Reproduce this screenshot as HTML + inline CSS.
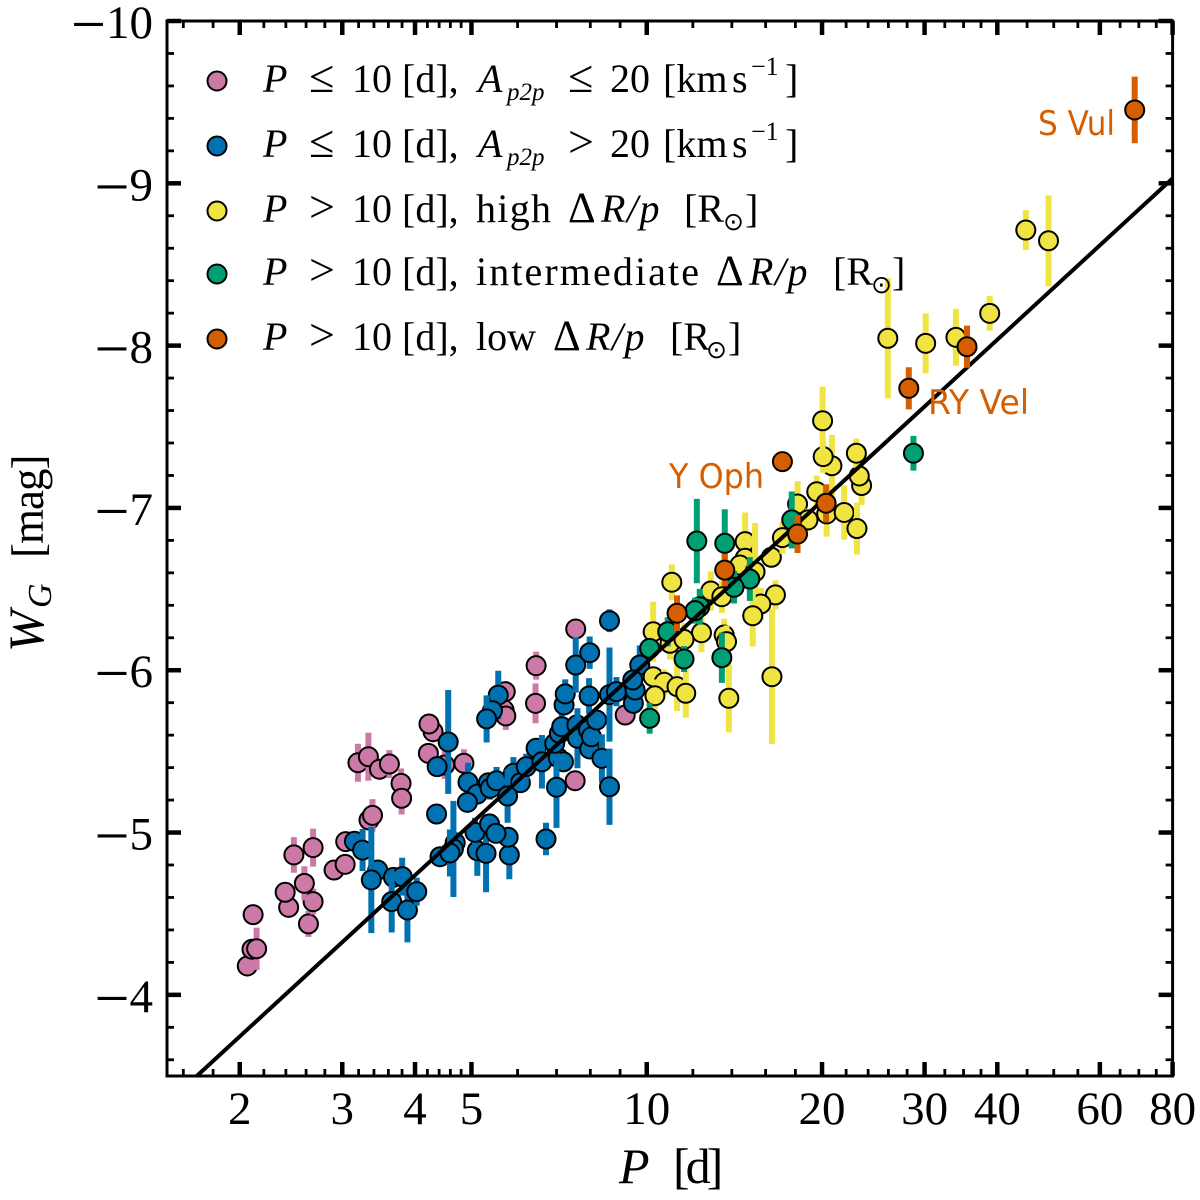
<!DOCTYPE html>
<html>
<head>
<meta charset="utf-8">
<title>Period-Wesenheit relation</title>
<style>
  html, body { margin: 0; padding: 0; background: #fff; }
  svg { display: block; }
  text { font-family: "Liberation Serif", "DejaVu Serif", serif; fill: #000; }
  .sans { font-family: "DejaVu Sans", "Liberation Sans", sans-serif; fill: #D55E00; font-size: 34px; }
  .leg { font-size: 40px; }
  .leg .i { font-style: italic; }
  .leg .rp { font-style: italic; letter-spacing: 1.5px; }
  .leg .r { font-size: 46px; }
  .leg .d { font-size: 43px; }
  .leg .s { font-size: 25px; font-style: italic; }
  .leg .o { font-size: 25px; font-family: "DejaVu Sans", sans-serif; }
</style>
</head>
<body>
<svg id="chart" xmlns="http://www.w3.org/2000/svg" width="1200" height="1200" viewBox="0 0 1200 1200">
  <rect x="0" y="0" width="1200" height="1200" fill="#fff"/>
  <g id="marks"></g>
  <g id="axes"></g>

  <g>
    <g>
      <circle cx="217" cy="81" r="9.5" fill="#CC79A7" stroke="#000" stroke-width="2"/>
      <text class="leg" y="92"><tspan class="i" x="263">P</tspan><tspan class="r" x="309">≤</tspan><tspan x="352">10</tspan><tspan x="402">[d],</tspan><tspan class="i" x="478">A</tspan><tspan class="s" x="507" dy="8">p2p</tspan><tspan class="r" x="568" dy="-8">≤</tspan><tspan x="610">20</tspan><tspan x="663">[km</tspan><tspan x="732">s</tspan><tspan font-size="26" x="751" dy="-17">−1</tspan><tspan x="785" dy="17">]</tspan></text>
    </g>
    <g>
      <circle cx="217" cy="146" r="9.5" fill="#0072B2" stroke="#000" stroke-width="2"/>
      <text class="leg" y="157"><tspan class="i" x="263">P</tspan><tspan class="r" x="309">≤</tspan><tspan x="352">10</tspan><tspan x="402">[d],</tspan><tspan class="i" x="478">A</tspan><tspan class="s" x="507" dy="8">p2p</tspan><tspan class="r" x="568" dy="-8">&gt;</tspan><tspan x="610">20</tspan><tspan x="663">[km</tspan><tspan x="732">s</tspan><tspan font-size="26" x="751" dy="-17">−1</tspan><tspan x="785" dy="17">]</tspan></text>
    </g>
    <g>
      <circle cx="217" cy="211" r="9.5" fill="#F0E442" stroke="#000" stroke-width="2"/>
      <text class="leg" y="222"><tspan class="i" x="263">P</tspan><tspan class="r" x="309">&gt;</tspan><tspan x="352">10</tspan><tspan x="402">[d],</tspan><tspan x="476" letter-spacing="1.3">high</tspan><tspan class="d" x="568">Δ</tspan><tspan class="rp" x="601">R/p</tspan><tspan x="684">[R</tspan><tspan class="o" x="723" dy="8">⊙</tspan><tspan x="745" dy="-8">]</tspan></text>
    </g>
    <g>
      <circle cx="217" cy="274" r="9.5" fill="#009E73" stroke="#000" stroke-width="2"/>
      <text class="leg" y="285"><tspan class="i" x="263">P</tspan><tspan class="r" x="309">&gt;</tspan><tspan x="352">10</tspan><tspan x="402">[d],</tspan><tspan x="476" letter-spacing="2.1">intermediate</tspan><tspan class="d" x="716">Δ</tspan><tspan class="rp" x="749">R/p</tspan><tspan x="833">[R</tspan><tspan class="o" x="871" dy="8">⊙</tspan><tspan x="892" dy="-8">]</tspan></text>
    </g>
    <g>
      <circle cx="217" cy="339" r="9.5" fill="#D55E00" stroke="#000" stroke-width="2"/>
      <text class="leg" y="350"><tspan class="i" x="263">P</tspan><tspan class="r" x="309">&gt;</tspan><tspan x="352">10</tspan><tspan x="402">[d],</tspan><tspan x="476">low</tspan><tspan class="d" x="553">Δ</tspan><tspan class="rp" x="586">R/p</tspan><tspan x="670">[R</tspan><tspan class="o" x="706" dy="8">⊙</tspan><tspan x="728" dy="-8">]</tspan></text>
    </g>
  </g>

  <text class="sans" x="1038" y="135" textLength="77" lengthAdjust="spacingAndGlyphs">S Vul</text>
  <text class="sans" x="928" y="414" textLength="101" lengthAdjust="spacingAndGlyphs">RY Vel</text>
  <text class="sans" x="669" y="488" textLength="95" lengthAdjust="spacingAndGlyphs">Y Oph</text>

  <text font-size="50" transform="translate(43,652) rotate(-90)"><tspan font-style="italic" x="0">W</tspan><tspan font-style="italic" font-size="34" x="44" dy="8">G</tspan><tspan font-size="45" x="94" dy="-8" letter-spacing="-1">[mag]</tspan></text>
  <text font-size="50" y="1183"><tspan font-style="italic" x="619">P</tspan><tspan x="673" letter-spacing="-4">[d]</tspan></text>
</svg>

<script>
// Fit line: W = fitZero + fitSlope * (log10 P - 1)
const fitZero = -6.05;
const fitSlope = -3.3;

// Axis tick values
const xMajorTicks = [2, 3, 4, 5, 10, 20, 30, 40, 60, 80];
const xMinorTicks = [1.6, 1.8, 2.2, 2.4, 2.6, 2.8, 3.2, 3.4, 3.6, 3.8, 4.2, 4.4, 4.6, 4.8, 6, 7, 8, 9, 12, 14, 16, 18, 22, 24, 26, 28, 32.5, 35, 37.5, 45, 50, 55, 65, 70, 75];
const yMajorTicks = [-10, -9, -8, -7, -6, -5, -4];
const yMinorTicks = [-9.8, -9.6, -9.4, -9.2, -8.8, -8.6, -8.4, -8.2, -7.8, -7.6, -7.4, -7.2, -6.8, -6.6, -6.4, -6.2, -5.8, -5.6, -5.4, -5.2, -4.8, -4.6, -4.4, -4.2, -3.8, -3.6];

// Short period, low amplitude (log10 P, W_G, error)
const pinkLogP = [0.314, 0.322, 0.330, 0.324, 0.385, 0.379, 0.419, 0.427, 0.412, 0.394, 0.427, 0.463, 0.482, 0.483, 0.523, 0.529, 0.504, 0.522, 0.541, 0.558, 0.578, 0.579, 0.633, 0.626, 0.625, 0.653, 0.686, 0.757, 0.755, 0.758, 0.810, 0.809, 0.878, 0.877, 0.963];
const pinkW = [-4.178, -4.281, -4.284, -4.494, -4.539, -4.632, -4.437, -4.574, -4.687, -4.862, -4.907, -4.769, -4.804, -4.944, -5.077, -5.106, -5.430, -5.467, -5.390, -5.422, -5.303, -5.211, -5.621, -5.669, -5.488, -5.416, -5.427, -5.868, -5.755, -5.718, -6.028, -5.796, -6.254, -5.319, -5.724];
const pinkErr = [0.03, 0.03, 0.13, 0.03, 0.03, 0.03, 0.08, 0.08, 0.105, 0.11, 0.117, 0.03, 0.03, 0.03, 0.03, 0.10, 0.117, 0.148, 0.03, 0.086, 0.092, 0.10, 0.03, 0.06, 0.03, 0.086, 0.086, 0.03, 0.03, 0.086, 0.086, 0.123, 0.03, 0.03, 0.06];

// Short period, high amplitude
const blueLogP = [0.498, 0.512, 0.538, 0.527, 0.565, 0.580, 0.562, 0.589, 0.605, 0.645, 0.671, 0.668, 0.662, 0.659, 0.640, 0.639, 0.745, 0.735, 0.725, 0.693, 0.709, 0.692, 0.728, 0.731, 0.742, 0.771, 0.783, 0.761, 0.793, 0.810, 0.820, 0.848, 0.857, 0.845, 0.842, 0.850, 0.854, 0.858, 0.860, 0.878, 0.902, 0.936, 0.880, 0.881, 0.900, 0.902, 0.905, 0.914, 0.901, 0.923, 0.936, 0.936, 0.948, 0.977, 0.980, 0.988, 0.976, 0.827, 0.764, 0.762, 0.709, 0.724, 0.705, 0.730, 0.741];
const blueW = [-4.946, -4.892, -4.769, -4.708, -4.724, -4.728, -4.574, -4.523, -4.636, -4.851, -4.937, -4.899, -4.874, -5.558, -5.406, -5.114, -5.847, -5.751, -5.700, -5.310, -5.237, -5.186, -5.307, -5.273, -5.319, -5.365, -5.307, -5.225, -5.406, -5.519, -5.436, -5.461, -5.436, -5.279, -5.550, -5.611, -5.652, -5.786, -5.854, -6.032, -6.108, -6.305, -5.663, -5.581, -5.632, -5.515, -5.590, -5.693, -5.841, -5.457, -5.282, -5.850, -5.868, -5.796, -5.878, -6.032, -5.940, -4.960, -4.862, -4.971, -4.888, -4.872, -5.001, -5.053, -4.995];
const blueErr = [0.03, 0.13, 0.03, 0.328, 0.03, 0.117, 0.19, 0.20, 0.086, 0.03, 0.03, 0.296, 0.145, 0.32, 0.03, 0.03, 0.15, 0.03, 0.145, 0.12, 0.03, 0.03, 0.03, 0.07, 0.085, 0.10, 0.03, 0.165, 0.08, 0.06, 0.165, 0.03, 0.03, 0.25, 0.03, 0.03, 0.085, 0.03, 0.09, 0.17, 0.10, 0.07, 0.03, 0.185, 0.03, 0.06, 0.03, 0.03, 0.11, 0.148, 0.235, 0.29, 0.09, 0.03, 0.03, 0.12, 0.03, 0.10, 0.15, 0.03, 0.155, 0.24, 0.09, 0.03, 0.03];

// Long period, high radius variation
const yellowLogP = [1.043, 1.169, 1.169, 1.160, 1.186, 1.110, 1.129, 1.221, 1.215, 1.196, 1.182, 1.094, 1.011, 1.040, 1.064, 1.133, 1.137, 1.141, 1.011, 1.030, 1.014, 1.052, 1.067, 1.214, 1.233, 1.259, 1.292, 1.277, 1.309, 1.339, 1.361, 1.369, 1.365, 1.360, 1.318, 1.303, 1.302, 1.414, 1.479, 1.531, 1.589, 1.651, 1.690];
const yellowW = [-6.542, -6.792, -6.690, -6.648, -6.607, -6.488, -6.453, -6.464, -5.960, -6.408, -6.336, -6.231, -6.237, -6.166, -6.190, -6.217, -6.176, -5.827, -5.960, -5.926, -5.843, -5.899, -5.858, -6.696, -6.817, -7.024, -7.100, -6.926, -6.963, -6.972, -6.873, -7.138, -7.197, -7.337, -7.260, -7.316, -7.537, -8.045, -8.014, -8.051, -8.199, -8.712, -8.646];
const yellowErr = [0.11, 0.18, 0.10, 0.05, 0.30, 0.12, 0.10, 0.09, 0.415, 0.10, 0.19, 0.12, 0.185, 0.10, 0.10, 0.10, 0.10, 0.21, 0.06, 0.08, 0.10, 0.15, 0.15, 0.05, 0.10, 0.14, 0.10, 0.07, 0.14, 0.167, 0.16, 0.12, 0.10, 0.09, 0.19, 0.10, 0.21, 0.37, 0.185, 0.175, 0.107, 0.123, 0.28];

// Long period, intermediate radius variation
const greenLogP = [1.086, 1.134, 1.177, 1.150, 1.091, 1.083, 1.036, 1.005, 1.064, 1.129, 1.005, 1.249, 1.458];
const greenW = [-6.796, -6.782, -6.562, -6.511, -6.391, -6.367, -6.237, -6.135, -6.069, -6.077, -5.704, -6.926, -7.337];
const greenErr = [0.26, 0.21, 0.135, 0.10, 0.11, 0.08, 0.09, 0.05, 0.08, 0.155, 0.095, 0.175, 0.107];

// Long period, low radius variation
const orangeLogP = [1.052, 1.134, 1.259, 1.308, 1.233, 1.450, 1.550, 1.838];
const orangeW = [-6.351, -6.617, -6.839, -7.029, -7.285, -7.737, -7.993, -9.452];
const orangeErr = [0.11, 0.10, 0.117, 0.117, 0.0, 0.13, 0.13, 0.205];

const plotLeft = 167, plotRight = 1172.6, plotTop = 21, plotBottom = 1076;
const logMin = Math.log10(1.5), logMax = Math.log10(80);
const wTop = -10, wBottom = -3.5;

function xScale(logP) {
  return plotLeft + (logP - logMin) / (logMax - logMin) * (plotRight - plotLeft);
}
function yScale(w) {
  return plotTop + (w - wTop) / (wBottom - wTop) * (plotBottom - plotTop);
}

const NS = 'http://www.w3.org/2000/svg';
const marks = document.getElementById('marks');
const axes = document.getElementById('axes');

function drawSeries(name, logP, w, err, color) {
  const group = document.createElementNS(NS, 'g');
  
  
  marks.appendChild(group);
  logP.forEach(function (lp, i) {
    const cx = xScale(lp);
    const cy = yScale(w[i]);
    if (err[i] > 0) {
      const bar = document.createElementNS(NS, 'line');
      bar.setAttribute('x1', cx);
      bar.setAttribute('x2', cx);
      bar.setAttribute('y1', yScale(w[i] - err[i]));
      bar.setAttribute('y2', yScale(w[i] + err[i]));
      bar.setAttribute('stroke', color);
      bar.setAttribute('stroke-width', '6');
      
      
      group.appendChild(bar);
    }
    const dot = document.createElementNS(NS, 'circle');
    dot.setAttribute('cx', cx);
    dot.setAttribute('cy', cy);
    dot.setAttribute('r', '9.5');
    dot.setAttribute('fill', color);
    dot.setAttribute('stroke', '#000');
    dot.setAttribute('stroke-width', '2');
    
    
    group.appendChild(dot);
  });
}

drawSeries('short-low-amplitude', pinkLogP, pinkW, pinkErr, '#CC79A7');
drawSeries('short-high-amplitude', blueLogP, blueW, blueErr, '#0072B2');
drawSeries('long-high-radius', yellowLogP, yellowW, yellowErr, '#F0E442');
drawSeries('long-intermediate-radius', greenLogP, greenW, greenErr, '#009E73');

// Fit line, clipped to the axes range
const fitStart = 1 + (wBottom - fitZero) / fitSlope;
const fitLine = document.createElementNS(NS, 'line');
fitLine.setAttribute('x1', xScale(fitStart));
fitLine.setAttribute('y1', yScale(wBottom));
fitLine.setAttribute('x2', xScale(logMax));
fitLine.setAttribute('y2', yScale(fitZero + fitSlope * (logMax - 1)));
fitLine.setAttribute('stroke', '#000');
fitLine.setAttribute('stroke-width', '4');


marks.appendChild(fitLine);

drawSeries('long-low-radius', orangeLogP, orangeW, orangeErr, '#D55E00');

function tick(x1, y1, x2, y2, width, name) {
  const t = document.createElementNS(NS, 'line');
  t.setAttribute('x1', x1);
  t.setAttribute('y1', y1);
  t.setAttribute('x2', x2);
  t.setAttribute('y2', y2);
  t.setAttribute('stroke', '#000');
  t.setAttribute('stroke-width', width);
  
  
  axes.appendChild(t);
}

const majorLen = 14, minorLen = 7, majorW = 4.5, minorW = 2.8;

xMajorTicks.forEach(function (p) {
  const x = xScale(Math.log10(p));
  tick(x, plotBottom, x, plotBottom - majorLen, majorW, 'x-major-tick');
  tick(x, plotTop, x, plotTop + majorLen, majorW, 'x-major-tick-top');
  const label = document.createElementNS(NS, 'text');
  label.setAttribute('x', x);
  label.setAttribute('y', 1124);
  label.setAttribute('font-size', '47');
  label.setAttribute('text-anchor', 'middle');
  
  
  label.textContent = String(p);
  axes.appendChild(label);
});
xMinorTicks.forEach(function (p) {
  const x = xScale(Math.log10(p));
  tick(x, plotBottom, x, plotBottom - minorLen, minorW, 'x-minor-tick');
  tick(x, plotTop, x, plotTop + minorLen, minorW, 'x-minor-tick-top');
});
yMajorTicks.forEach(function (w) {
  const y = yScale(w);
  tick(plotLeft, y, plotLeft + majorLen, y, majorW, 'y-major-tick');
  tick(plotRight, y, plotRight - majorLen, y, majorW, 'y-major-tick-right');
  const label = document.createElementNS(NS, 'text');
  label.setAttribute('x', 153);
  label.setAttribute('y', y + 17);
  label.setAttribute('font-size', '47');
  label.setAttribute('text-anchor', 'end');
  
  
  const minus = document.createElementNS(NS, 'tspan');
  minus.setAttribute('font-size', '62');
  minus.setAttribute('dy', '7');
  minus.textContent = '\u2212';
  label.appendChild(minus);
  const digits = document.createElementNS(NS, 'tspan');
  digits.setAttribute('dy', '-7');
  digits.textContent = String(Math.abs(w));
  label.appendChild(digits);
  axes.appendChild(label);
});
yMinorTicks.forEach(function (w) {
  const y = yScale(w);
  tick(plotLeft, y, plotLeft + minorLen, y, minorW, 'y-minor-tick');
  tick(plotRight, y, plotRight - minorLen, y, minorW, 'y-minor-tick-right');
});

const frame = document.createElementNS(NS, 'rect');
frame.setAttribute('x', plotLeft);
frame.setAttribute('y', plotTop);
frame.setAttribute('width', plotRight - plotLeft);
frame.setAttribute('height', plotBottom - plotTop);
frame.setAttribute('fill', 'none');
frame.setAttribute('stroke', '#000');
frame.setAttribute('stroke-width', '3');


axes.appendChild(frame);
</script>
</body>
</html>
